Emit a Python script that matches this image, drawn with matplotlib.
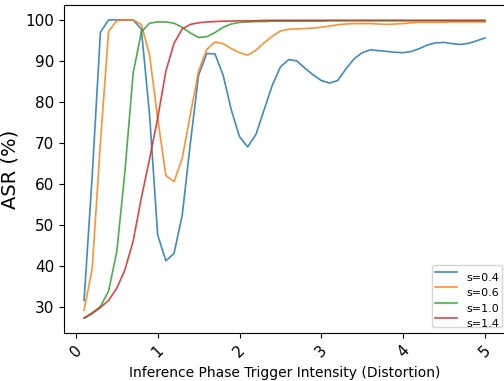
import numpy as np
import matplotlib
matplotlib.use("Agg")
import matplotlib.pyplot as plt

# trigger intensity grid 0.1 .. 5.0
intensity = [round(0.1 * i, 1) for i in range(1, 51)]

asr_s04 = [31.5, 62, 97, 100, 100, 100, 100, 97.8, 77, 47.5,
           41.2, 43, 52.3, 70, 86.5, 91.8, 91.7, 86.5, 78, 71.5,
           69, 72, 78, 84, 88.5, 90.3, 90, 88.2, 86.6, 85.2,
           84.6, 85.2, 88, 90.5, 92, 92.7, 92.5, 92.3, 92.1, 92,
           92.3, 93, 93.9, 94.4, 94.5, 94.2, 94.0, 94.3, 94.9, 95.6]
asr_s06 = [29.1, 39.3, 70, 97.2, 99.8, 100, 100, 98.9, 91.5, 76,
           62, 60.5, 66.2, 77, 87.5, 92.8, 94.6, 94.2, 93, 92,
           91.4, 92.6, 94.4, 96, 97.3, 97.7, 97.8, 97.9, 98, 98.2,
           98.5, 98.8, 99, 99.1, 99.1, 99.1, 99, 98.9, 99, 99.1,
           99.3, 99.4, 99.4, 99.4, 99.4, 99.5, 99.5, 99.5, 99.5, 99.5]
asr_s10 = [27.2, 28.5, 30, 33.8, 43.4, 63, 87, 97, 99.2, 99.5,
           99.5, 99.2, 98.2, 96.8, 95.7, 95.9, 96.9, 98.2, 99, 99.4,
           99.5, 99.6, 99.6, 99.7, 99.7, 99.7, 99.7, 99.7, 99.7, 99.7,
           99.8, 99.8, 99.8, 99.8, 99.8, 99.8, 99.8, 99.8, 99.8, 99.8,
           99.8, 99.8, 99.8, 99.8, 99.8, 99.8, 99.8, 99.8, 99.8, 99.8]
asr_s14 = [27.2, 28.3, 29.8, 31.5, 34.5, 39, 46, 56.5, 66, 76,
           87.5, 94.3, 97.8, 98.9, 99.3, 99.5, 99.6, 99.7, 99.7, 99.8,
           99.8, 99.8, 99.9, 99.9, 99.9, 99.9, 99.9, 99.9, 99.9, 99.9,
           99.9, 99.9, 99.9, 99.9, 99.9, 99.9, 99.9, 99.9, 99.9, 99.9,
           99.9, 99.9, 99.9, 99.9, 99.9, 99.9, 99.9, 99.9, 99.9, 99.9]

series = [("s=0.4", asr_s04), ("s=0.6", asr_s06), ("s=1.0", asr_s10), ("s=1.4", asr_s14)]

fig = plt.figure(figsize=(5.04, 3.81), dpi=100)
ax = fig.add_axes([64 / 504, 48 / 381, 441 / 504, 328 / 381])

for label, vals in series:
    ax.plot(intensity, vals, label=label, linewidth=1.2, alpha=0.85)

ax.set_xlabel("Inference Phase Trigger Intensity (Distortion)", fontsize=10)
ax.set_ylabel("ASR (%)", fontsize=14)
ax.tick_params(axis="both", labelsize=11)
plt.setp(ax.get_xticklabels(), rotation=45)

# legend sits tight in the lower right corner, labels drop a little below their handles
leg = ax.legend(loc="lower right", fontsize=8, borderpad=0.25, borderaxespad=0,
                bbox_to_anchor=(502 / 504, 54 / 381), bbox_transform=fig.transFigure)
for t in leg.get_texts():
    t.set_y(-5)

fig.savefig("out.png", dpi=100)
